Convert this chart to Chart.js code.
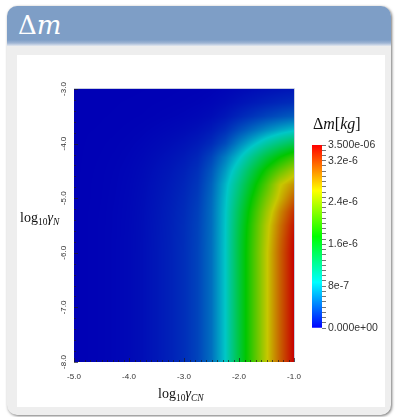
<!DOCTYPE html>
<html>
<head>
<meta charset="utf-8">
<script src="https://cdn.jsdelivr.net/npm/chart.js@4.4.1/dist/chart.umd.min.js"></script>
<style>
  body { margin: 0; width: 395px; height: 417px; background: #fff; position: relative; overflow: hidden; font-family: "Liberation Serif", serif; }
  #card { position: absolute; left: 7px; top: 6px; width: 384px; height: 409px; background: #eeeeee; border-radius: 10px; box-shadow: 1px 1px 3px rgba(0,0,0,.55); }
  #head { position: absolute; left: 7px; top: 6px; width: 384px; height: 40px; border-radius: 10px 10px 0 0;
    background: linear-gradient(to bottom, #7e9ec6 0, #7e9ec6 34px, #9fb5d4 37px, #e2e7ef 40px); }
  #head span { position: absolute; left: 11px; top: 4px; color: #fff; font-family: "DejaVu Serif", serif; font-size: 26px; line-height: 30px; }
  #panel { position: absolute; left: 17px; top: 55px; width: 368px; height: 352px; background: #fff; }
  canvas { position: absolute; }
  .lbl { position: absolute; font-size: 14px; line-height: 16px; color: #111; white-space: nowrap; }
  .lbl sub { font-size: 9.5px; vertical-align: -3px; }
</style>
</head>
<body>
<div id="card"></div>
<div id="head"><span>Δ<i>m</i></span></div>
<div id="panel"></div>
<canvas id="main" width="368" height="352" style="left:17px;top:55px"></canvas>
<canvas id="cbar" width="80" height="205" style="left:305px;top:135px"></canvas>
<div class="lbl" style="left:20px;top:210px">log<sub>10</sub><i>γ</i><sub><i>N</i></sub></div>
<div class="lbl" style="left:158px;top:386px">log<sub>10</sub><i>γ</i><sub><i>CN</i></sub></div>
<div class="lbl" style="left:313px;top:116px;font-size:16px">Δ<i>m</i>[<i>kg</i>]</div>

<script>
// log10 gamma_CN (x) and log10 gamma_N (y) sample positions
const gammaCN = [-5.0, -4.75, -4.5, -4.25, -4.0, -3.75, -3.5, -3.25, -3.0, -2.75, -2.5, -2.25, -2.0, -1.75, -1.5, -1.25, -1.0]
const gammaN = [-3.0, -3.25, -3.5, -3.75, -4.0, -4.25, -4.5, -4.75, -5.0, -5.25, -5.5, -5.75,
  -6.0, -6.25, -6.5, -6.75, -7.0, -7.25, -7.5, -7.75, -8.0]

// delta m in units of 1e-7 kg, one row per gammaN value
const dmGrid = [
  [0, 0, 0, 0.01, 0.01, 0.02, 0.03, 0.05, 0.07, 0.09, 0.15, 0.26, 0.44, 0.61, 0.78, 0.92, 1.05],
  [0, 0, 0.01, 0.02, 0.03, 0.04, 0.07, 0.09, 0.13, 0.19, 0.30, 0.53, 0.88, 1.22, 1.55, 1.85, 2.1],
  [0, 0.01, 0.02, 0.03, 0.05, 0.08, 0.13, 0.19, 0.26, 0.38, 0.61, 1.05, 1.76, 2.44, 3.11, 3.7, 4.2],
  [0, 0.02, 0.03, 0.06, 0.10, 0.17, 0.27, 0.38, 0.52, 0.76, 1.22, 2.1, 3.53, 4.87, 6.22, 7.39, 8.4],
  [0, 0.03, 0.06, 0.10, 0.17, 0.28, 0.45, 0.63, 0.87, 1.26, 2.03, 3.5, 5.88, 8.12, 10.4, 12.3, 14.0],
  [0, 0.04, 0.08, 0.14, 0.24, 0.40, 0.64, 0.90, 1.24, 1.80, 3.2, 5.6, 8.38, 11.6, 14.8, 17.6, 20.0],
  [0, 0.05, 0.10, 0.18, 0.30, 0.50, 0.80, 1.12, 1.54, 2.24, 4.0, 6.9, 10.4, 14.4, 18.4, 21.9, 24.9],
  [0, 0.06, 0.11, 0.20, 0.34, 0.57, 0.91, 1.28, 1.76, 2.55, 4.5, 7.9, 11.9, 16.4, 21.0, 26.0, 28.6],
  [0, 0.06, 0.12, 0.22, 0.37, 0.62, 0.99, 1.39, 1.91, 2.77, 4.8, 8.3, 12.9, 17.9, 22.8, 27.1, 30.8],
  [0, 0.07, 0.13, 0.24, 0.39, 0.66, 1.05, 1.49, 2.04, 2.96, 4.95, 8.55, 13.8, 19.1, 24.3, 29.0, 32.9],
  [0, 0.07, 0.14, 0.24, 0.41, 0.68, 1.09, 1.54, 2.12, 3.07, 5.0, 8.65, 14.3, 19.8, 25.3, 30.0, 34.1],
  [0, 0.07, 0.14, 0.25, 0.42, 0.69, 1.11, 1.56, 2.15, 3.12, 5.05, 8.7, 14.6, 20.1, 25.6, 30.5, 34.7],
  [0, 0.07, 0.14, 0.25, 0.42, 0.70, 1.12, 1.58, 2.17, 3.15, 5.08, 8.75, 14.7, 20.3, 25.9, 30.8, 35.0],
  [0, 0.07, 0.14, 0.25, 0.42, 0.70, 1.12, 1.58, 2.17, 3.15, 5.08, 8.75, 14.7, 20.3, 25.9, 30.8, 35.0],
  [0, 0.07, 0.14, 0.25, 0.42, 0.70, 1.12, 1.58, 2.17, 3.15, 5.08, 8.75, 14.7, 20.3, 25.9, 30.8, 35.0],
  [0, 0.07, 0.14, 0.25, 0.42, 0.70, 1.12, 1.58, 2.17, 3.15, 5.08, 8.75, 14.7, 20.3, 25.9, 30.8, 35.0],
  [0, 0.07, 0.14, 0.25, 0.42, 0.70, 1.12, 1.58, 2.17, 3.15, 5.08, 8.75, 14.7, 20.3, 25.9, 30.8, 35.0],
  [0, 0.07, 0.14, 0.25, 0.42, 0.70, 1.12, 1.58, 2.17, 3.15, 5.08, 8.75, 14.7, 20.3, 25.9, 30.8, 35.0],
  [0, 0.07, 0.14, 0.25, 0.42, 0.70, 1.12, 1.58, 2.17, 3.15, 5.08, 8.75, 14.7, 20.3, 25.9, 30.8, 35.0],
  [0, 0.07, 0.14, 0.25, 0.42, 0.70, 1.12, 1.58, 2.17, 3.15, 5.08, 8.75, 14.7, 20.3, 25.9, 30.8, 35.0],
  [0, 0.07, 0.14, 0.25, 0.42, 0.70, 1.12, 1.58, 2.17, 3.15, 5.08, 8.75, 14.7, 20.3, 25.9, 30.8, 35.0]
]
const dmUnit = 1e-7
const dmMax = 3.5e-6

// colour bar ticks
const cbTickValues = [0, 8e-7, 1.6e-6, 2.4e-6, 3.2e-6, 3.5e-6]
const cbTickLabels = ['0.000e+00', '8e-7', '1.6e-6', '2.4e-6', '3.2e-6', '3.500e-06']

Chart.defaults.font.family = '"Liberation Sans", sans-serif'

// blue -> cyan -> green -> yellow -> red
const rainbow = (t, shade) => {
  t = Math.min(1, Math.max(0, t))
  const h = (1 - t) * 4
  let r, g, b
  if (h >= 3) { r = 0; g = 4 - h; b = 1 }
  else if (h >= 2) { r = 0; g = 1; b = h - 2 }
  else if (h >= 1) { r = 2 - h; g = 1; b = 0 }
  else { r = 1; g = h; b = 0 }
  return [r * shade * 255, g * shade * 255, b * shade * 255]
}

// fractional position of v inside a sorted array of sample positions
const locate = (arr, v) => {
  const n = arr.length
  const asc = arr[n - 1] > arr[0]
  for (let k = 0; k < n - 1; k++) {
    const a1 = arr[k + 1]
    if ((asc ? v <= a1 : v >= a1) || k === n - 2) {
      const f = (v - arr[k]) / (a1 - arr[k])
      return [k, Math.min(1, Math.max(0, f))]
    }
  }
}

const sampleGrid = (xv, yv) => {
  const [i, fx] = locate(gammaCN, xv)
  const [j, fy] = locate(gammaN, yv)
  const top = dmGrid[j][i] * (1 - fx) + dmGrid[j][i + 1] * fx
  const bot = dmGrid[j + 1][i] * (1 - fx) + dmGrid[j + 1][i + 1] * fx
  return (top * (1 - fy) + bot * fy) * dmUnit
}

// paints the field pixel by pixel, positions come from the chart scales
const heatmapPlugin = {
  id: 'heatmap',
  beforeDatasetsDraw(chart) {
    const { ctx, chartArea: a, scales: { x, y } } = chart
    const w = Math.round(a.right - a.left), h = Math.round(a.bottom - a.top)
    const off = document.createElement('canvas')
    off.width = w
    off.height = h
    const octx = off.getContext('2d')
    const img = octx.createImageData(w, h)
    for (let j = 0; j < h; j++) {
      const yv = y.getValueForPixel(a.top + j + 0.5)
      for (let i = 0; i < w; i++) {
        const xv = x.getValueForPixel(a.left + i + 0.5)
        const t = sampleGrid(xv, yv) / dmMax
        const [r, g, b] = rainbow(t, 0.71 + 0.07 * Math.min(1, t * 4))
        const p = (j * w + i) * 4
        img.data[p] = r
        img.data[p + 1] = g
        img.data[p + 2] = b
        img.data[p + 3] = 255
      }
    }
    octx.putImageData(img, 0, 0)
    ctx.drawImage(off, a.left, a.top)
  },
  afterDraw(chart) {
    const { ctx, chartArea: a, scales: { x, y } } = chart
    ctx.save()
    // outline on top and right
    ctx.strokeStyle = '#c6cde0'
    ctx.lineWidth = 1
    ctx.beginPath()
    ctx.moveTo(a.left, a.top - 0.5)
    ctx.lineTo(a.right + 0.5, a.top - 0.5)
    ctx.lineTo(a.right + 0.5, a.bottom)
    ctx.stroke()
    // small tick marks along the edges
    ctx.strokeStyle = 'rgba(30,30,30,0.7)'
    ctx.beginPath()
    for (let k = 0; k <= 40; k++) {
      const px = Math.round(x.getPixelForValue(-5 + k * 0.1)) + 0.5
      const len = k % 10 === 0 ? 4 : 2
      ctx.moveTo(px, a.bottom)
      ctx.lineTo(px, a.bottom - len)
    }
    for (let k = 0; k <= 25; k++) {
      const py = Math.round(y.getPixelForValue(-8 + k * 0.2)) + 0.5
      const len = k % 5 === 0 ? 4 : 2
      ctx.moveTo(a.left, py)
      ctx.lineTo(a.left + len, py)
    }
    ctx.stroke()
    // tick labels
    ctx.fillStyle = '#333'
    ctx.font = '8px "Liberation Sans", sans-serif'
    ctx.textAlign = 'center'
    ctx.textBaseline = 'middle'
    x.ticks.forEach(t => {
      ctx.fillText(t.value.toFixed(1), x.getPixelForValue(t.value), a.bottom + 15)
    })
    y.ticks.forEach(t => {
      ctx.save()
      ctx.translate(a.left - 10, y.getPixelForValue(t.value))
      ctx.rotate(-Math.PI / 2)
      ctx.fillText(t.value.toFixed(1), 0, 0)
      ctx.restore()
    })
    ctx.restore()
  }
}

const gridPoints = gammaN.flatMap((yv, j) => gammaCN.map((xv, i) => ({ x: xv, y: yv, v: dmGrid[j][i] })))

new Chart(document.getElementById('main'), {
  type: 'scatter',
  data: { datasets: [{ data: gridPoints, pointRadius: 0 }] },
  options: {
    responsive: false,
    animation: false,
    layout: { padding: { top: 34, right: 91, left: 0, bottom: 0 } },
    plugins: { legend: { display: false }, tooltip: { enabled: false } },
    scales: {
      x: {
        type: 'linear', min: -5, max: -1,
        ticks: { display: false, stepSize: 1 },
        grid: { display: false }, border: { display: false },
        afterFit: s => { s.height = 45 }
      },
      y: {
        type: 'linear', min: -8, max: -3,
        ticks: { display: false, stepSize: 1 },
        grid: { display: false }, border: { display: false },
        afterFit: s => { s.width = 57 }
      }
    }
  },
  plugins: [heatmapPlugin]
})

// colour bar gradient follows the colour bar's own y scale
const barGradient = chart => {
  const { ctx, chartArea, scales } = chart
  if (!chartArea) return '#0000ff'
  const g = ctx.createLinearGradient(0, scales.y.getPixelForValue(0), 0, scales.y.getPixelForValue(dmMax))
  g.addColorStop(0, '#0000ff')
  g.addColorStop(0.25, '#00ffff')
  g.addColorStop(0.5, '#00ff00')
  g.addColorStop(0.75, '#ffff00')
  g.addColorStop(1, '#ff0000')
  return g
}

const minorSteps = Array.from({ length: 36 }, (_, i) => i * dmUnit)

new Chart(document.getElementById('cbar'), {
  type: 'bar',
  data: {
    labels: ['Δm'],
    datasets: [{
      data: [[0, dmMax]],
      backgroundColor: c => barGradient(c.chart),
      barPercentage: 1,
      categoryPercentage: 1,
      borderWidth: 0
    }]
  },
  options: {
    responsive: false,
    animation: false,
    layout: { padding: { left: 7, top: 10, bottom: 12, right: 0 } },
    plugins: { legend: { display: false }, tooltip: { enabled: false } },
    scales: {
      x: { display: false },
      y: {
        position: 'right', min: 0, max: dmMax,
        afterBuildTicks: s => { s.ticks = minorSteps.map(v => ({ value: v })) },
        afterFit: s => { s.width = 63 },
        grid: { drawOnChartArea: false, tickLength: 4, color: '#777' },
        border: { display: false },
        ticks: {
          autoSkip: false, padding: 2, color: '#333',
          font: { size: 10.5 },
          callback: v => {
            const k = cbTickValues.findIndex(t => Math.abs(t - v) < 1e-9)
            return k < 0 ? '' : cbTickLabels[k]
          }
        }
      }
    }
  }
})
</script>
</body>
</html>
